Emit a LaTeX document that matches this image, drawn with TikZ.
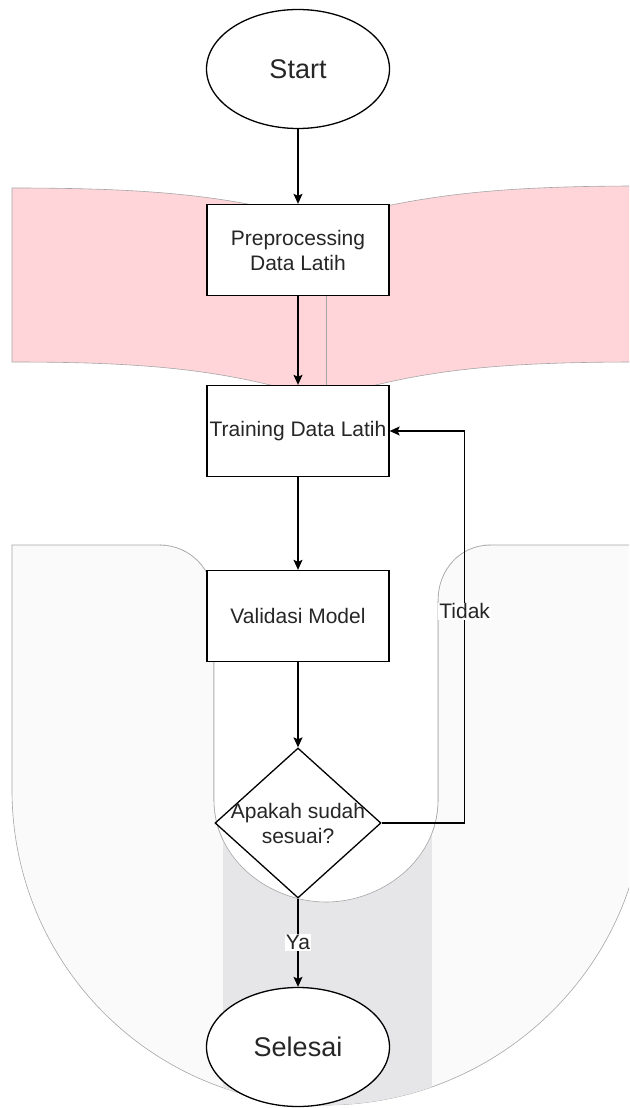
\documentclass[tikz,border=0pt]{standalone}
\usepackage{fontspec}
\setmainfont{Liberation Sans}
\usetikzlibrary{shapes.geometric,arrows.meta}
\definecolor{bandpink}{HTML}{FFD5D9}
\definecolor{ushade}{HTML}{FAFAFA}
\definecolor{colshade}{HTML}{E6E6E9}
\definecolor{edgegrey}{HTML}{A6A6A6}
\definecolor{inkgrey}{HTML}{262626}

\begin{document}
\begin{tikzpicture}[x=1pt, y=-1pt, node distance=181pt, line width=1.3pt,
  every node/.style={text=inkgrey, font=\fontsize{21}{25}\selectfont},
  term/.style={draw, ellipse, fill=white, minimum width=183pt, minimum height=119pt, font=\fontsize{27}{32}\selectfont},
  proc/.style={draw, rectangle, fill=white, minimum width=182pt, minimum height=91pt, inner sep=2pt, align=center},
  decide/.style={draw, diamond, fill=white, minimum width=166pt, minimum height=150pt, inner sep=0pt},
  arrow/.style={-{Stealth[length=10pt,width=9pt,inset=2pt]}},
  lbl/.style={fill=white, inner sep=1pt},
  bandedge/.style={draw=edgegrey, line width=0.6pt}]
\useasboundingbox (0,0) rectangle (629,1108);
\clip (0,0) rectangle (629,1108);

% background shapes
\filldraw[bandedge, fill=bandpink] (12,188) .. controls (150,188) and (230,195) .. (323,222)
  .. controls (416,195) and (496,186) .. (640,186) -- (640,362)
  .. controls (496,362) and (416,370) .. (323,400)
  .. controls (230,370) and (150,362) .. (12,362) -- cycle;
\filldraw[bandedge, fill=ushade] (12,790) -- (12,545) -- (160,545)
  .. controls (190,545) and (214,570) .. (214,600) -- (214,800)
  .. controls (214,860) and (270,902) .. (326,902)
  .. controls (382,902) and (438,860) .. (438,800) -- (438,600)
  .. controls (438,570) and (460,545) .. (490,545) -- (645,545) -- (645,790)
  .. controls (645,964) and (500,1105) .. (326,1105)
  .. controls (152,1105) and (12,964) .. (12,790) -- cycle;
\begin{scope}
\clip (12,790) -- (645,790) .. controls (645,964) and (500,1105) .. (326,1105)
  .. controls (152,1105) and (12,964) .. (12,790) -- cycle;
\fill[colshade] (223,830) rectangle (432,1110);
\end{scope}
\filldraw[bandedge, fill=white] (160,545) .. controls (190,545) and (214,570) .. (214,600) -- (214,800)
  .. controls (214,860) and (270,902) .. (326,902)
  .. controls (382,902) and (438,860) .. (438,800) -- (438,600)
  .. controls (438,570) and (460,545) .. (490,545);

% flow
\node[term] (1) at (298,69) {Start};
\node[proc] (2) [below of=1] {Preprocessing\\Data Latih};
\node[proc] (3) [below of=2] {Training Data Latih};
\node[proc] (4) [node distance=185pt, below of=3] {Validasi Model};
\node[decide, label={[align=center]center:Apakah sudah\\sesuai?}] (5) [node distance=207pt, below of=4] {};
\node[term] (6) [node distance=224pt, below of=5] {Selesai};
\draw[bandedge] ([xshift=28pt]2.south) -- ([xshift=28pt]3.north);
\draw[arrow] (1) -- (2);
\draw[arrow] (2) -- (3);
\draw[arrow] (3) -- (4);
\draw[arrow] (4) -- (5);
\draw[arrow] (5) -- node[lbl] {Ya} (6);
\draw[arrow] (5.east) -- ++(83,0) |- node[lbl, pos=0.27] {Tidak} (3);
\end{tikzpicture}
\end{document}
